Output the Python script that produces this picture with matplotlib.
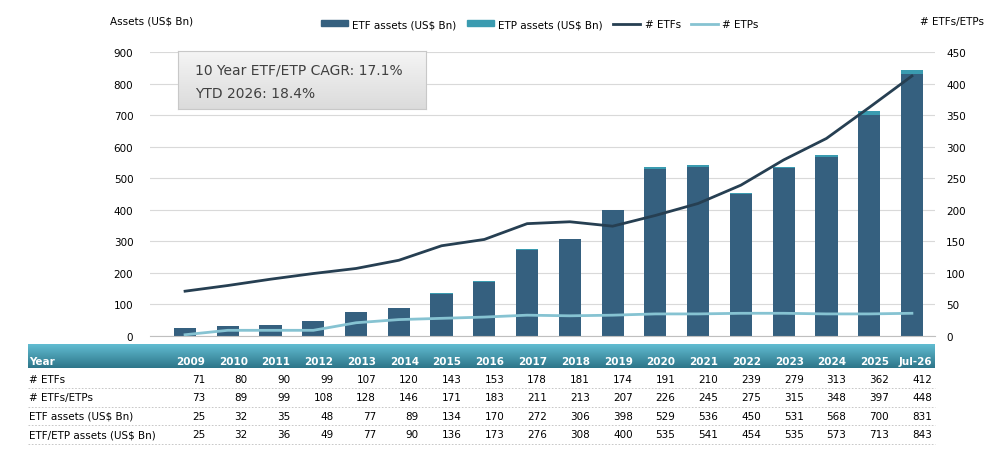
import numpy as np
import matplotlib.pyplot as plt
from matplotlib.lines import Line2D
from matplotlib.patches import Patch

years = ["2009", "2010", "2011", "2012", "2013", "2014", "2015", "2016", "2017",
         "2018", "2019", "2020", "2021", "2022", "2023", "2024", "2025", "Jul-26"]
n_etfs = [71, 80, 90, 99, 107, 120, 143, 153, 178, 181, 174, 191, 210, 239, 279, 313, 362, 412]
n_total = [73, 89, 99, 108, 128, 146, 171, 183, 211, 213, 207, 226, 245, 275, 315, 348, 397, 448]
etf_assets = [25, 32, 35, 48, 77, 89, 134, 170, 272, 306, 398, 529, 536, 450, 531, 568, 700, 831]
total_assets = [25, 32, 36, 49, 77, 90, 136, 173, 276, 308, 400, 535, 541, 454, 535, 573, 713, 843]

n_etps = [t - e for t, e in zip(n_total, n_etfs)]
etp_assets = [t - e for t, e in zip(total_assets, etf_assets)]

C_ETF = "#35607f"
C_ETP = "#3a9bb0"
C_LINE = "#263f52"
C_LINE2 = "#86c3d2"

W, H = 984, 456
fig = plt.figure(figsize=(W / 100, H / 100), dpi=100)
plt.rcParams["font.family"] = "DejaVu Sans"
FS = 7.5

L, R, B, T = 150, 935, 337, 53
ax = fig.add_axes([L / W, 1 - B / H, (R - L) / W, (B - T) / H])
x = np.arange(len(years))
ax.bar(x, etf_assets, width=0.52, color=C_ETF, zorder=2)
ax.bar(x, etp_assets, width=0.52, bottom=etf_assets, color=C_ETP, zorder=2)
ax.set_ylim(0, 900)
ax.set_yticks(range(0, 901, 100))
ax.set_xlim(-0.82, 17.54)
ax.set_xticks([])
ax.grid(axis="y", color="#d9d9d9", lw=0.8, zorder=0)
for s in ax.spines.values():
    s.set_visible(False)
ax.spines["bottom"].set_visible(True)
ax.spines["bottom"].set_color("#bfbfbf")
ax.tick_params(axis="y", length=0, labelsize=FS, pad=12)

ax2 = ax.twinx()
ax2.plot(x, n_etfs, color=C_LINE, lw=2, zorder=3)
ax2.plot(x, n_etps, color=C_LINE2, lw=2, zorder=3)
ax2.set_ylim(0, 450)
ax2.set_yticks(range(0, 451, 50))
for s in ax2.spines.values():
    s.set_visible(False)
ax2.tick_params(axis="y", length=0, labelsize=FS, pad=8)

fig.text(110 / W, 1 - 22 / H, "Assets (US$ Bn)", fontsize=FS, va="center")
fig.text(920 / W, 1 - 22 / H, "# ETFs/ETPs", fontsize=FS, va="center")

handles = [Patch(color=C_ETF), Patch(color=C_ETP),
           Line2D([], [], color=C_LINE, lw=2), Line2D([], [], color=C_LINE2, lw=2)]
labels = ["ETF assets (US$ Bn)", "ETP assets (US$ Bn)", "# ETFs", "# ETPs"]
fig.legend(handles, labels, loc="center", bbox_to_anchor=(540 / W, 1 - 25 / H), ncol=4,
           frameon=False, fontsize=FS, handlelength=2.6, handleheight=0.5,
           columnspacing=1.0, handletextpad=0.4)

# CAGR box
bx = fig.add_axes([178 / W, 1 - 110 / H, 248 / W, 58 / H])
grad = np.linspace(0.96, 0.86, 50).reshape(-1, 1)
bx.imshow(np.dstack([grad] * 3), aspect="auto", extent=[0, 1, 0, 1])
bx.set_xticks([]); bx.set_yticks([])
for s in bx.spines.values():
    s.set_color("#c8c8c8")
bx.text(0.07, 0.68, "10 Year ETF/ETP CAGR: 17.1%", fontsize=10, color="#404040", va="center")
bx.text(0.07, 0.28, "YTD 2026: 18.4%", fontsize=10, color="#404040", va="center")

# table header band
hx = fig.add_axes([28 / W, 1 - 369 / H, (935 - 28) / W, 24 / H])
hg = np.linspace(0, 1, 50).reshape(-1, 1)
top_c = np.array([0.38, 0.74, 0.82])
bot_c = np.array([0.18, 0.46, 0.54])
hx.imshow(top_c * (1 - hg[..., None]) + bot_c * hg[..., None], aspect="auto",
          extent=[0, 1, 0, 1])
hx.axis("off")

def col_x(i):
    return (L + (i + 0.82) * (R - L) / 18.36 + 20) / W

fig.text(29 / W, 1 - 362 / H, "Year", fontsize=FS, color="white", weight="bold", va="center")
for i, yr in enumerate(years):
    fig.text(col_x(i), 1 - 362 / H, yr, fontsize=FS, color="white", weight="bold",
             va="center", ha="right")

rows = [("# ETFs", n_etfs), ("# ETFs/ETPs", n_total),
        ("ETF assets (US$ Bn)", etf_assets), ("ETF/ETP assets (US$ Bn)", total_assets)]
for r, (name, vals) in enumerate(rows):
    yc = 1 - (380 + r * 18.5) / H
    fig.text(29 / W, yc, name, fontsize=FS, va="center")
    for i, v in enumerate(vals):
        fig.text(col_x(i), yc, str(v), fontsize=FS, va="center", ha="right")
    ly = 1 - (389 + r * 18.5) / H
    fig.add_artist(Line2D([28 / W, 935 / W], [ly, ly], color="#bfbfbf", lw=0.6, ls=(0, (2, 2))))

fig.savefig("out.png", dpi=100)
